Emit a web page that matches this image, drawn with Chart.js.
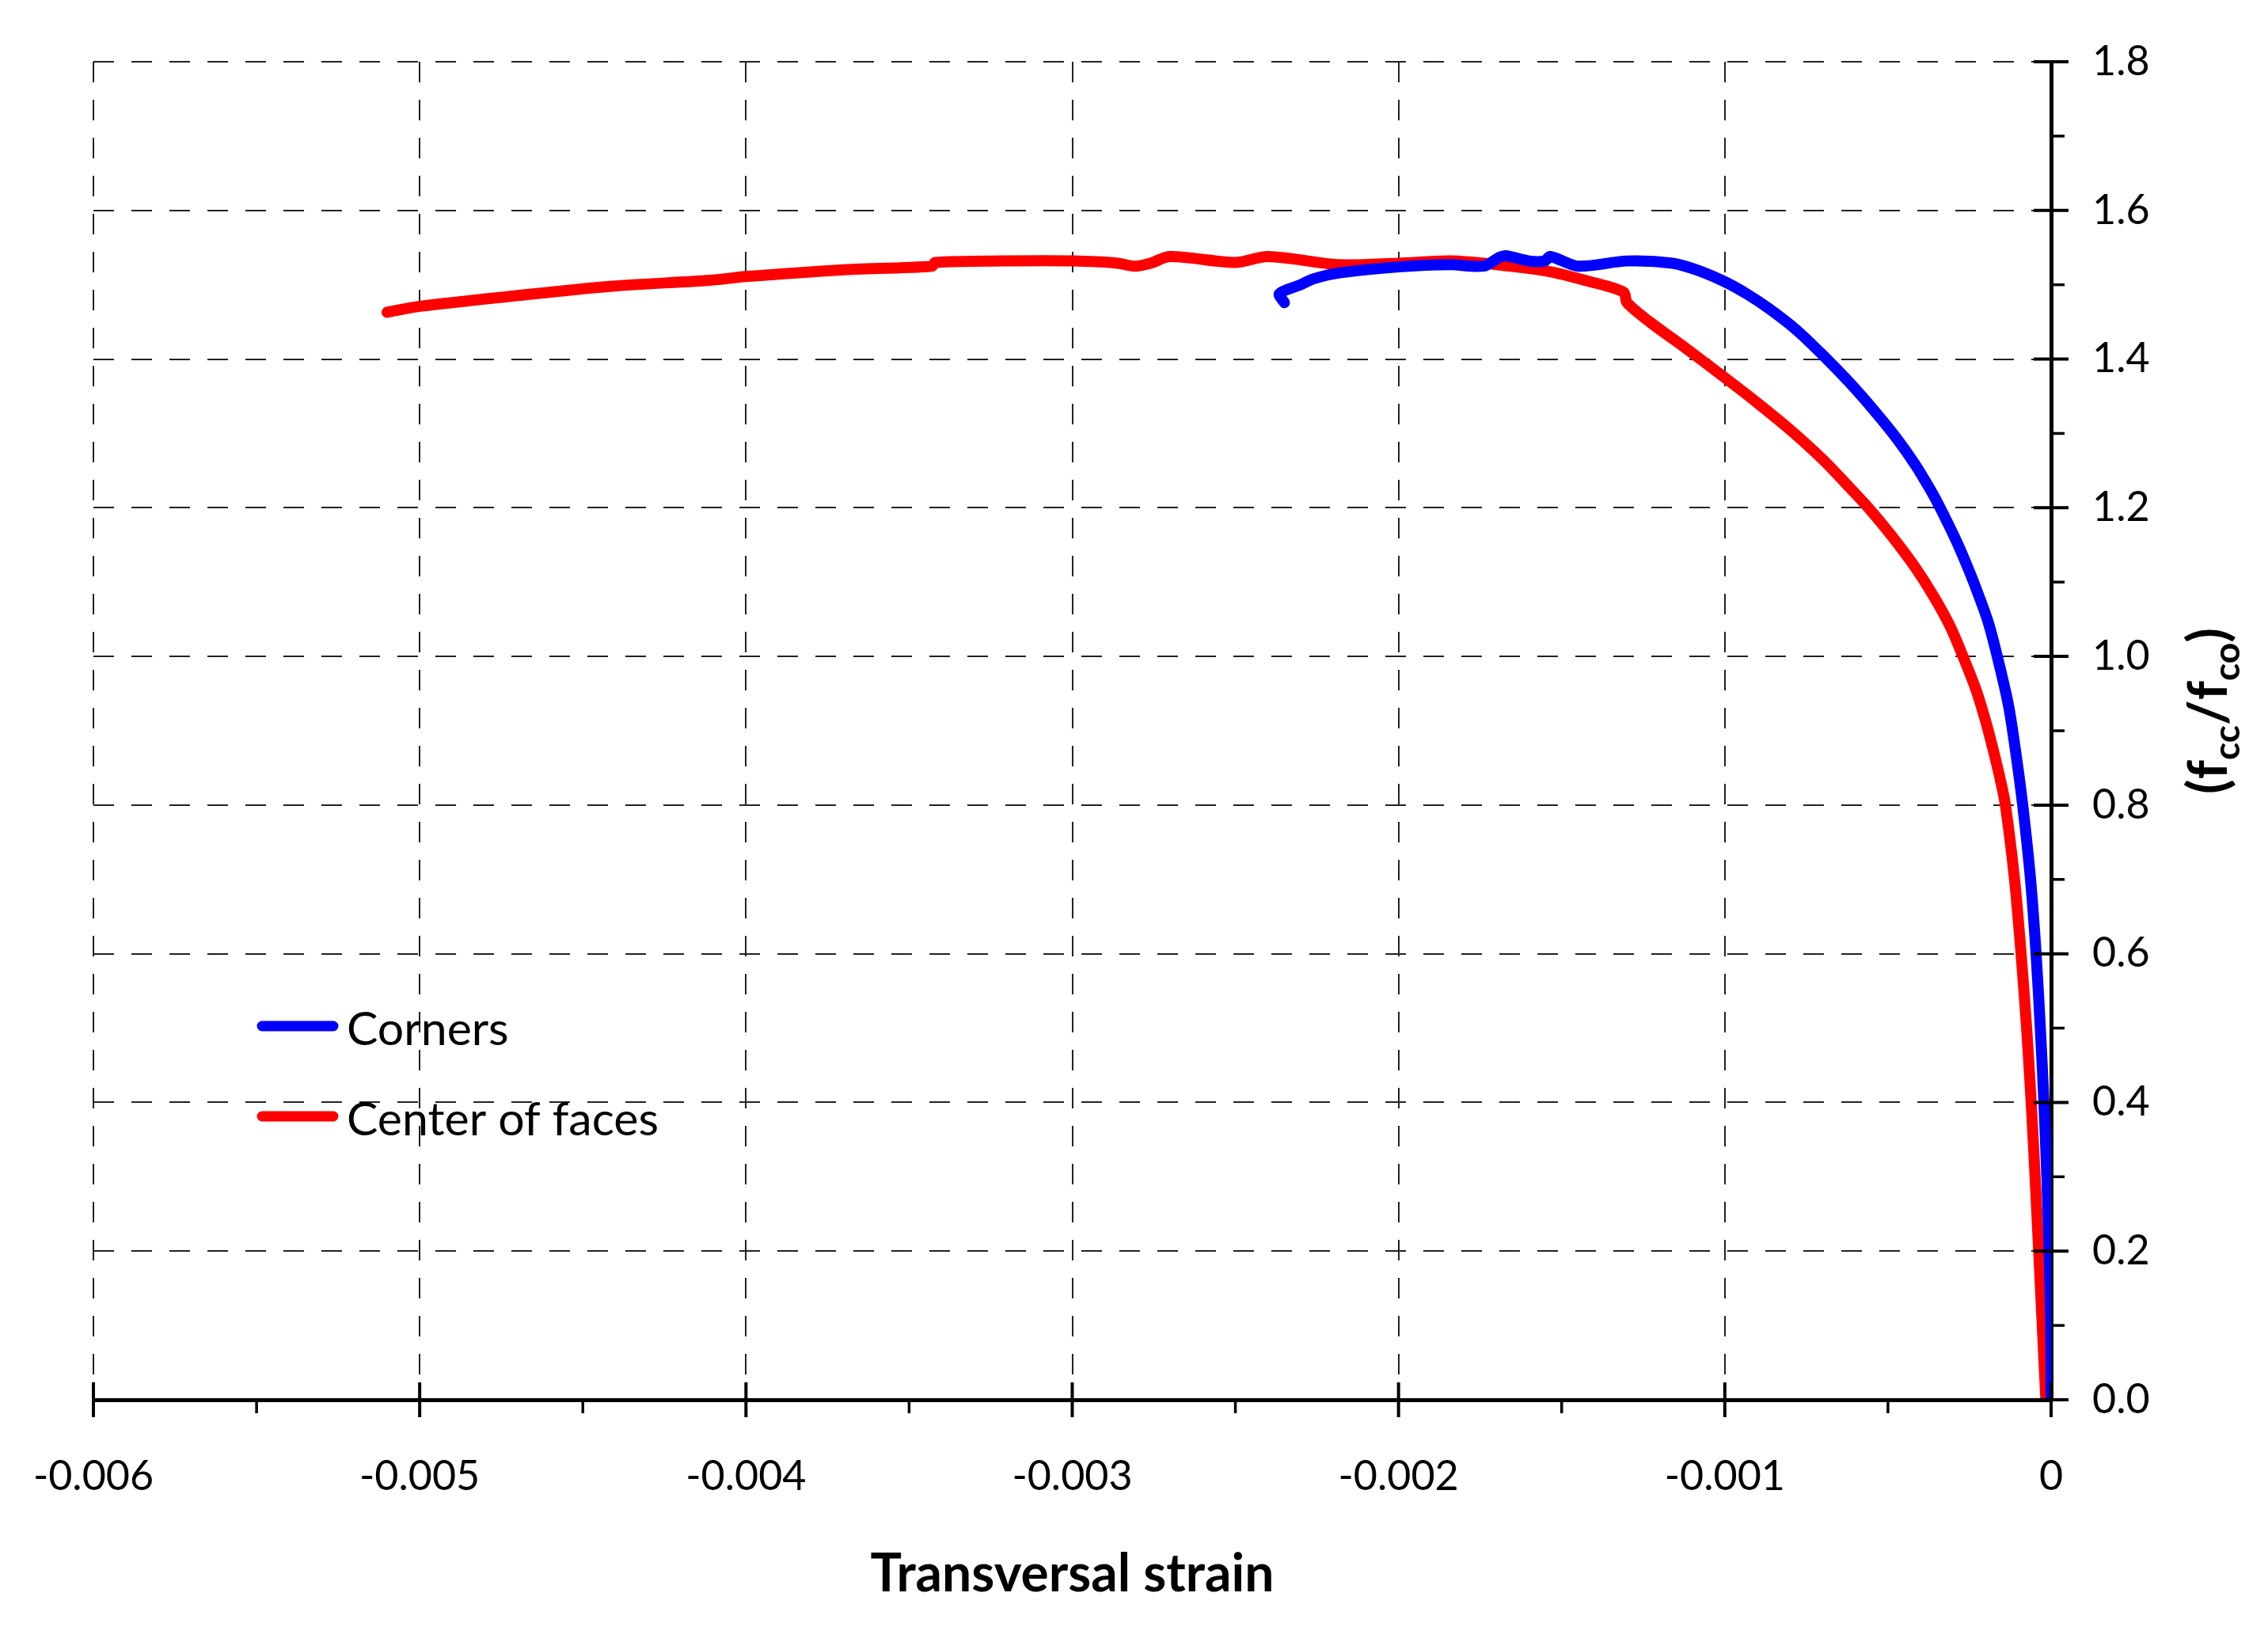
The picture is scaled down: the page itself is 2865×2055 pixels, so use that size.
<!DOCTYPE html>
<html>
<head>
<meta charset="utf-8">
<script src="https://cdn.jsdelivr.net/npm/chart.js@4/dist/chart.umd.min.js"></script>
<style>
  html, body { margin: 0; padding: 0; background: #fff; }
  #wrap { width: 2865px; height: 2055px; }
</style>
</head>
<body>
<div id="wrap"><canvas id="c" width="2865" height="2055"></canvas></div>
<script>
// ---- data ----
const seriesLabels = ['Corners', 'Center of faces'];

const cornersX = [-0.002350, -0.002365, -0.002300, -0.002260, -0.002180, -0.002000, -0.001840, -0.001740,
  -0.001690, -0.001671, -0.001600, -0.001552, -0.001535, -0.001450, -0.001300, -0.001160, -0.001080,
  -0.001000, -0.000930, -0.000865, -0.000780, -0.000694, -0.000617, -0.000541, -0.000471, -0.000415,
  -0.000371, -0.000340, -0.000289, -0.000252, -0.000221, -0.000192, -0.000165, -0.000131, -0.000108,
  -0.000087, -0.000063, -0.000046, -0.000033, -0.000022, -0.000013, -0.000006, -0.000001, 0.000000];
const cornersY = [1.476, 1.488, 1.500, 1.508, 1.516, 1.524, 1.527, 1.525,
  1.537, 1.539, 1.532, 1.532, 1.538, 1.525, 1.532, 1.529, 1.519,
  1.504, 1.487, 1.468, 1.439, 1.403, 1.368, 1.330, 1.292, 1.257,
  1.225, 1.200, 1.154, 1.116, 1.081, 1.045, 1.000, 0.935, 0.870,
  0.800, 0.700, 0.600, 0.500, 0.400, 0.300, 0.200, 0.100, 0.000];

const centerX = [-0.00510, -0.00500, -0.00471, -0.00441, -0.00411, -0.00400, -0.00371, -0.00343, -0.00342,
  -0.00320, -0.00300, -0.00286, -0.00281, -0.00276, -0.00270, -0.00250, -0.00240, -0.00218, -0.00200,
  -0.00184, -0.00170, -0.00154, -0.00142, -0.00131, -0.00130, -0.00123, -0.00113, -0.00100, -0.00090,
  -0.00080, -0.00070, -0.00063, -0.00056, -0.00049, -0.00042, -0.00036, -0.00031, -0.000270,
  -0.000230, -0.000200, -0.000175, -0.000155, -0.000140, -0.000112, -0.000092, -0.000075, -0.000061,
  -0.000049, -0.000038, -0.000027, -0.000016];
const centerY = [1.463, 1.471, 1.485, 1.498, 1.506, 1.511, 1.520, 1.525, 1.530,
  1.532, 1.532, 1.529, 1.525, 1.529, 1.538, 1.530, 1.538, 1.527, 1.529,
  1.532, 1.527, 1.518, 1.505, 1.490, 1.476, 1.450, 1.418, 1.375, 1.341,
  1.305, 1.265, 1.233, 1.200, 1.163, 1.122, 1.081, 1.041, 1.000,
  0.955, 0.912, 0.870, 0.833, 0.800, 0.700, 0.600, 0.500, 0.400,
  0.300, 0.200, 0.100, 0.000];

const xTickLabels = ['-0.006', '-0.005', '-0.004', '-0.003', '-0.002', '-0.001', '0'];
const yTickLabels = ['0.0', '0.2', '0.4', '0.6', '0.8', '1.0', '1.2', '1.4', '1.6', '1.8'];
const xTitle = 'Transversal strain';

// ---- chart ----
const toPts = (xs, ys) => xs.map((x, i) => ({ x: x, y: ys[i] }));
const FONT = 'Lato, "Open Sans", "DejaVu Sans", sans-serif';

const axisTicks = {
  id: 'axisTicks',
  afterDatasetsDraw(chart) {
    const ctx = chart.ctx;
    const xs = chart.scales.x, ys = chart.scales.y;
    const y0 = ys.getPixelForValue(0);
    const x0 = xs.getPixelForValue(0);
    ctx.save();
    ctx.strokeStyle = '#000';
    ctx.lineCap = 'butt';
    const xt = xs.ticks.map(t => t.value);
    ctx.lineWidth = 4;
    xt.forEach(v => {
      const p = xs.getPixelForValue(v);
      ctx.beginPath(); ctx.moveTo(p, y0 - 22); ctx.lineTo(p, y0 + 22); ctx.stroke();
    });
    ctx.lineWidth = 3.5;
    for (let i = 0; i < xt.length - 1; i++) {
      const p = xs.getPixelForValue((xt[i] + xt[i + 1]) / 2);
      ctx.beginPath(); ctx.moveTo(p, y0); ctx.lineTo(p, y0 + 17); ctx.stroke();
    }
    const yt = ys.ticks.map(t => t.value);
    ctx.lineWidth = 4;
    yt.forEach(v => {
      const p = ys.getPixelForValue(v);
      ctx.beginPath(); ctx.moveTo(x0 - 22, p); ctx.lineTo(x0 + 22, p); ctx.stroke();
    });
    ctx.lineWidth = 3.5;
    for (let i = 0; i < yt.length - 1; i++) {
      const p = ys.getPixelForValue((yt[i] + yt[i + 1]) / 2);
      ctx.beginPath(); ctx.moveTo(x0, p); ctx.lineTo(x0 + 17, p); ctx.stroke();
    }
    ctx.restore();
  }
};

const extras = {
  id: 'extras',
  afterDraw(chart) {
    const ctx = chart.ctx;
    const a = chart.chartArea;
    ctx.save();
    // legend
    const legendRows = [1296, 1410];
    chart.data.datasets.forEach((ds, i) => {
      const yy = legendRows[i];
      ctx.strokeStyle = ds.borderColor;
      ctx.lineWidth = 13;
      ctx.lineCap = 'round';
      ctx.beginPath(); ctx.moveTo(331, yy); ctx.lineTo(421, yy); ctx.stroke();
      ctx.fillStyle = '#000';
      ctx.font = '59px ' + FONT;
      ctx.textAlign = 'left';
      ctx.textBaseline = 'middle';
      ctx.fillText(ds.label, 438, yy + 5);
    });
    // x title
    ctx.fillStyle = '#000';
    ctx.font = 'bold 66px ' + FONT;
    ctx.textAlign = 'center';
    ctx.textBaseline = 'alphabetic';
    ctx.fillText(xTitle, (a.left + a.right) / 2, 2010);
    // y title (rotated, with subscripts)
    ctx.translate(2813, 898);
    ctx.rotate(-Math.PI / 2);
    const main = 'bold 68px ' + FONT, sub = 'bold 46px ' + FONT;
    const parts = [['(', main, 0], ['f', main, 0], ['cc', sub, 16], ['/', main, 0], ['f', main, 0], ['co', sub, 16], [')', main, 0]];
    let total = 0;
    parts.forEach(p => { ctx.font = p[1]; total += ctx.measureText(p[0]).width; });
    let cx = -total / 2;
    ctx.textAlign = 'left';
    parts.forEach(p => {
      ctx.font = p[1];
      ctx.fillText(p[0], cx, p[2]);
      cx += ctx.measureText(p[0]).width;
    });
    ctx.restore();
  }
};

new Chart(document.getElementById('c'), {
  type: 'scatter',
  data: {
    datasets: [
      { label: seriesLabels[0], data: toPts(cornersX, cornersY), borderColor: '#0000ff', backgroundColor: '#0000ff',
        showLine: true, borderWidth: 14, pointRadius: 0, tension: 0.3, borderCapStyle: 'round', borderJoinStyle: 'round' },
      { label: seriesLabels[1], data: toPts(centerX, centerY), borderColor: '#ff0000', backgroundColor: '#ff0000',
        showLine: true, borderWidth: 14, pointRadius: 0, tension: 0.3, borderCapStyle: 'round', borderJoinStyle: 'round' }
    ]
  },
  options: {
    responsive: false,
    animation: false,
    devicePixelRatio: 1,
    layout: { padding: { left: 118, top: 78, right: 0, bottom: 0 } },
    plugins: { legend: { display: false }, tooltip: { enabled: false } },
    scales: {
      x: {
        type: 'linear', position: 'bottom', min: -0.006, max: 0,
        afterFit: s => { s.height = 2055 - 1768; s.paddingLeft = 0; s.paddingRight = 0; },
        ticks: { stepSize: 0.001, padding: 66, color: '#000', font: { family: FONT, size: 52 },
          callback: (v, i) => xTickLabels[i] },
        grid: { display: true, drawTicks: false, color: '#222', lineWidth: 2 },
        border: { display: true, color: '#000', width: 5, dash: [26, 22] }
      },
      y: {
        type: 'linear', position: 'right', min: 0, max: 1.8,
        afterFit: s => { s.width = 2865 - 2591; s.paddingTop = 0; s.paddingBottom = 0; },
        ticks: { stepSize: 0.2, padding: 52, color: '#000', font: { family: FONT, size: 52 },
          callback: (v, i) => yTickLabels[i] },
        grid: { display: true, drawTicks: false, color: '#222', lineWidth: 2 },
        border: { display: true, color: '#000', width: 5, dash: [26, 22] }
      }
    }
  },
  plugins: [axisTicks, extras]
});
</script>
</body>
</html>
